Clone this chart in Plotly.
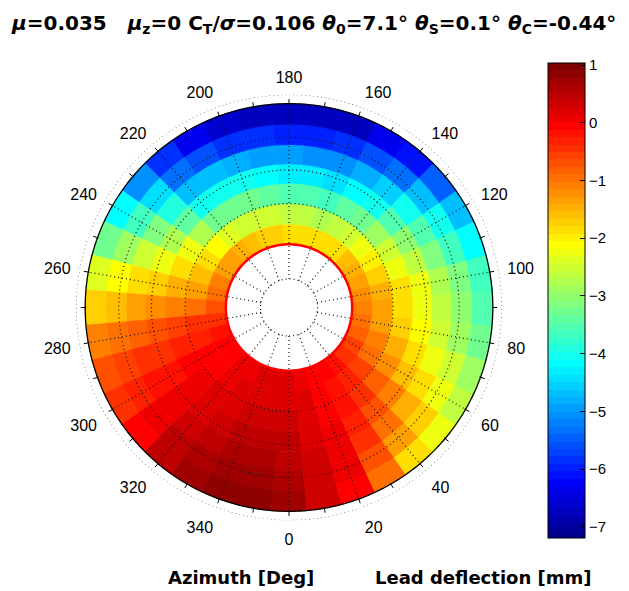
import plotly.graph_objects as go
import numpy as np

# ---------------- data ----------------
AZIMUTH = list(range(0, 360, 10))              # deg, cell centres
R_EDGES = [0.31, 0.41, 0.51, 0.61, 0.705, 0.80, 0.90, 1.00]   # normalised radius
# lead deflection [mm]: one row per azimuth, columns inner -> outer
LEAD = [
    [0.20, 0.25, 0.30, 0.40, 0.50, 0.60, 0.75],    # 0
    [0.10, 0.15, 0.20, 0.25, 0.30, 0.35, 0.35],    # 10
    [-0.05, 0.00, 0.00, 0.05, 0.10, 0.05, -0.10],  # 20
    [-0.10, -0.15, -0.25, -0.35, -0.50, -0.65, -0.90],  # 30
    [-0.20, -0.30, -0.50, -0.70, -1.00, -1.30, -1.80],  # 40
    [-0.40, -0.60, -0.85, -1.15, -1.45, -1.75, -2.20],  # 50
    [-0.60, -0.90, -1.20, -1.60, -1.90, -2.20, -2.60],  # 60
    [-0.80, -1.10, -1.50, -1.90, -2.20, -2.55, -2.95],  # 70
    [-1.00, -1.30, -1.70, -2.10, -2.50, -2.90, -3.30],  # 80
    [-1.10, -1.40, -1.80, -2.20, -2.60, -3.05, -3.50],  # 90
    [-1.20, -1.50, -1.90, -2.30, -2.70, -3.20, -3.70],  # 100
    [-1.35, -1.75, -2.20, -2.65, -3.10, -3.65, -4.20],  # 110
    [-1.50, -2.00, -2.50, -3.00, -3.50, -4.10, -4.70],  # 120
    [-1.65, -2.25, -2.90, -3.50, -4.05, -4.70, -5.40],  # 130
    [-1.80, -2.50, -3.30, -4.00, -4.60, -5.30, -6.10],  # 140
    [-1.85, -2.60, -3.45, -4.20, -4.85, -5.60, -6.40],  # 150
    [-1.90, -2.70, -3.60, -4.40, -5.10, -5.90, -6.70],  # 160
    [-1.85, -2.65, -3.55, -4.35, -5.05, -5.95, -6.80],  # 170
    [-1.80, -2.60, -3.50, -4.30, -5.00, -6.00, -6.80],  # 180
    [-1.75, -2.55, -3.40, -4.20, -4.90, -5.90, -6.70],  # 190
    [-1.70, -2.50, -3.30, -4.10, -4.80, -5.80, -6.60],  # 200
    [-1.60, -2.45, -3.30, -4.05, -4.75, -5.55, -6.30],  # 210
    [-1.50, -2.40, -3.30, -4.00, -4.70, -5.30, -5.90],  # 220
    [-1.40, -2.15, -2.80, -3.35, -3.90, -4.45, -5.10],  # 230
    [-1.30, -1.90, -2.30, -2.70, -3.10, -3.60, -4.20],  # 240
    [-1.15, -1.60, -1.90, -2.20, -2.50, -2.85, -3.30],  # 250
    [-1.00, -1.30, -1.50, -1.70, -1.90, -2.10, -2.40],  # 260
    [-0.70, -0.90, -1.05, -1.20, -1.40, -1.55, -1.75],  # 270
    [-0.40, -0.50, -0.60, -0.70, -0.80, -0.90, -1.10],  # 280
    [-0.25, -0.30, -0.35, -0.40, -0.50, -0.60, -0.75],  # 290
    [-0.10, -0.10, -0.10, -0.15, -0.20, -0.30, -0.45],  # 300
    [-0.02, 0.00, 0.02, 0.02, 0.05, 0.05, 0.00],   # 310
    [0.05, 0.10, 0.15, 0.20, 0.30, 0.40, 0.50],    # 320
    [0.10, 0.18, 0.25, 0.32, 0.42, 0.55, 0.70],    # 330
    [0.15, 0.25, 0.35, 0.45, 0.55, 0.75, 0.90],    # 340
    [0.18, 0.25, 0.32, 0.42, 0.52, 0.68, 0.85],    # 350
]
CB_TICKS = [-7, -6, -5, -4, -3, -2, -1, 0, 1]
ANGLE_LABELS = list(range(0, 360, 20))
C_MIN, C_MAX = -7.2, 1.03

# ---------------- MATLAB jet(64) as a stepped colorscale ----------------
def jet64():
    m = 64
    n = 16
    u = np.concatenate([np.arange(1, n + 1) / n, np.ones(n - 1), np.arange(n, 0, -1) / n])
    g = 8 + np.arange(1, len(u) + 1)
    r = g + n
    b = g - n
    J = np.zeros((m, 3))
    for idx, uu in zip(r, u):
        if 1 <= idx <= m:
            J[idx - 1, 0] = uu
    for idx, uu in zip(g, u):
        if 1 <= idx <= m:
            J[idx - 1, 1] = uu
    for idx, uu in zip(b, u):
        if 1 <= idx <= m:
            J[idx - 1, 2] = uu
    scale = []
    for i in range(m):
        c = "rgb(%d,%d,%d)" % tuple(int(round(255 * v)) for v in J[i])
        scale.append([i / m, c])
        scale.append([(i + 1) / m, c])
    return scale

JET = jet64()

theta, base, rad, col, wid = [], [], [], [], []
for i, psi in enumerate(AZIMUTH):
    for j in range(len(R_EDGES) - 1):
        theta.append(psi)
        base.append(R_EDGES[j])
        rad.append(R_EDGES[j + 1] - R_EDGES[j])
        col.append(LEAD[i][j])
        wid.append(10)

fig = go.Figure()
fig.add_trace(go.Barpolar(
    theta=theta, r=rad, base=base, width=wid,
    marker=dict(
        color=col, colorscale=JET, cmin=C_MIN, cmax=C_MAX,
        line=dict(width=0.8, color=col, colorscale=JET, cmin=C_MIN, cmax=C_MAX),
        colorbar=dict(
            x=548 / 629, xanchor="left", xpad=0, ypad=0,
            y=1 - 300.8 / 591, yanchor="middle",
            lenmode="pixels", len=475, thickness=37,
            outlinewidth=1, outlinecolor="black",
            tickvals=CB_TICKS, ticks="inside", ticklen=5, tickcolor="black",
            tickfont=dict(family="Liberation Sans, Arial", size=15, color="black"),
        ),
    ),
    showlegend=False, hoverinfo="skip",
))

circ = list(np.arange(0, 361, 1))
grid_style = dict(color="#111", width=1.2, dash="1px,3px")
# rings
for rr in [0.14, 0.51, 0.675, 0.835]:
    fig.add_trace(go.Scatterpolar(theta=circ, r=[rr] * len(circ), mode="lines",
                                  line=grid_style, showlegend=False, hoverinfo="skip"))
# spokes
st, sr = [], []
for a in ANGLE_LABELS:
    st += [a, a, None]
    sr += [0.14, 1.0, None]
fig.add_trace(go.Scatterpolar(theta=st, r=sr, mode="lines", line=grid_style,
                              showlegend=False, hoverinfo="skip"))
# outer dotted circle
fig.add_trace(go.Scatterpolar(theta=circ, r=[1.045] * len(circ), mode="lines",
                              line=dict(color="#555", width=1.2, dash="1px,3px"),
                              showlegend=False, hoverinfo="skip"))
# red rim round the hole
fig.add_trace(go.Scatterpolar(theta=circ, r=[R_EDGES[0]] * len(circ), mode="lines",
                              line=dict(color="red", width=2.5),
                              showlegend=False, hoverinfo="skip"))
# black edge of the disk
fig.add_trace(go.Scatterpolar(theta=circ, r=[R_EDGES[-1]] * len(circ), mode="lines",
                              line=dict(color="black", width=1.3),
                              showlegend=False, hoverinfo="skip"))
# tick marks every 10 deg
tt, tr = [], []
for a in range(0, 360, 10):
    tt += [a, a, None]
    tr += [0.995, 1.022, None]
fig.add_trace(go.Scatterpolar(theta=tt, r=tr, mode="lines",
                              line=dict(color="black", width=1),
                              showlegend=False, hoverinfo="skip"))

BOLD = "DejaVu Sans, Arial"
fig.update_layout(
    width=629, height=591,
    margin=dict(l=0, r=0, t=0, b=0),
    paper_bgcolor="white",
    font=dict(family="Liberation Sans, Arial", color="black"),
    polar=dict(
        domain=dict(x=[76 / 629, 502 / 629], y=[1 - 520.5 / 591, 1 - 94.5 / 591]),
        bgcolor="white",
        radialaxis=dict(visible=False, range=[0, 1.045]),
        angularaxis=dict(
            rotation=270, direction="counterclockwise",
            tickmode="array", tickvals=ANGLE_LABELS,
            ticktext=[str(v) for v in ANGLE_LABELS],
            showgrid=False, showline=False,
            ticks="outside", ticklen=5, tickcolor="rgba(0,0,0,0)",
            tickfont=dict(family="Liberation Sans, Arial", size=16, color="black"),
        ),
        barmode="overlay",
    ),
    annotations=[
        dict(text="<b><i>μ</i>=0.035\u00a0\u00a0 <i>μ</i><sub>z</sub>=0 C<sub>T</sub>/<i>σ</i>=0.106 "
                  "<i>θ</i><sub>0</sub>=7.1° <i>θ</i><sub>S</sub>=0.1° <i>θ</i><sub>C</sub>=-0.44°</b>",
             xref="paper", yref="paper", x=313.5 / 629, y=1 - 24 / 591,
             xanchor="center", yanchor="middle", showarrow=False,
             font=dict(family=BOLD, size=20, color="black")),
        dict(text="<b>Azimuth [Deg]</b>", xref="paper", yref="paper",
             x=241 / 629, y=1 - 577 / 591, xanchor="center", yanchor="middle",
             showarrow=False, font=dict(family=BOLD, size=18, color="black")),
        dict(text="<b>Lead deflection [mm]</b>", xref="paper", yref="paper",
             x=483 / 629, y=1 - 577 / 591, xanchor="center", yanchor="middle",
             showarrow=False, font=dict(family=BOLD, size=18, color="black")),
    ],
)

fig.write_html("out.html")
